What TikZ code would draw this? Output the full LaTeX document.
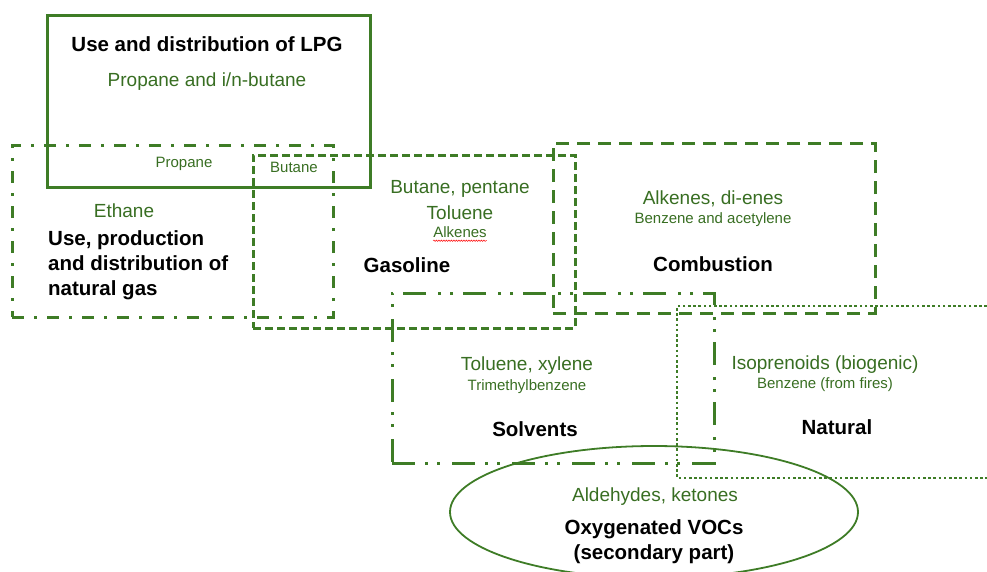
\documentclass[tikz,border=0pt]{standalone}
\usepackage{fontspec}
\setmainfont{Liberation Sans}
\usetikzlibrary{shapes.geometric,decorations.pathmorphing}
\definecolor{vgreen}{RGB}{62,124,38}
\definecolor{tgreen}{RGB}{56,110,34}
\tikzset{
  srcbox/.style={draw=vgreen, line width=3pt, inner sep=0pt, rectangle},
  dashdotline/.style={dash pattern=on 12pt off 10pt on 3pt off 10pt},
  shortdashline/.style={dash pattern=on 8pt off 4pt},
  longdashline/.style={dash pattern=on 13pt off 8pt},
  dashdotdotline/.style={dash pattern=on 23pt off 10pt on 3pt off 9pt on 3pt off 12pt},
  dotline/.style={dash pattern=on 2.6pt off 2.6pt},
  title/.style={font=\fontsize{20.5}{25}\selectfont\bfseries, text=black, inner sep=0pt},
  big/.style={font=\fontsize{19}{23}\selectfont, text=tgreen, inner sep=0pt},
  small/.style={font=\fontsize{15}{18}\selectfont, text=tgreen, inner sep=0pt},
}
\begin{document}
\begin{tikzpicture}[x=1pt,y=-1pt]
\useasboundingbox (0,0) rectangle (987,571);
% boxes
\node[srcbox, minimum width=323pt, minimum height=172pt] (lpg) at (208.5,101) {};
\node[srcbox, dashdotline, minimum width=321pt, minimum height=172pt] (ng) at (172.5,231) {};
\node[srcbox, shortdashline, minimum width=322pt, minimum height=173pt] (gas) at (414,241.5) {};
\node[srcbox, longdashline, minimum width=322pt, minimum height=170pt] (comb) at (714,228) {};
\node[srcbox, dashdotdotline, minimum width=322pt, minimum height=170pt] (solv) at (553,378) {};
\coordinate (natTR) at (987,306);
\coordinate (natTL) at (677,306);
\coordinate (natBL) at (677,478);
\coordinate (natBR) at (987,478);
\draw[vgreen, line width=2.7pt, dotline] (natTR) -- (natTL) -- (natBL) -- (natBR);
\node[draw=vgreen, line width=1.8pt, ellipse, inner sep=0pt, minimum width=408pt, minimum height=132pt] (oxy) at (654,512) {};
% texts LPG
\node[title] (lpgT) at (207,44) {Use and distribution of LPG};
\node[big] (lpgS) at (207,82) {Propane and i/n-butane};
\node[small] (prop) at (184,164) {Propane};
\node[small] (but) at (294,167) {Butane};
% natural gas
\node[big] (eth) at (124,211) {Ethane};
\node[title, anchor=west, align=left] (ngT) at (48,265) {Use, production\\and distribution of\\natural gas};
% gasoline
\node[big] (gasS1) at (460,189) {Butane, pentane};
\node[big] (gasS2) at (460,213) {Toluene};
\node[small] (gasS3) at (460,232) {Alkenes};
\draw[red, line width=0.5pt, decorate, decoration={snake, amplitude=0.7pt, segment length=2.5pt}]
  ([yshift=-3pt]gasS3.south west) -- ([yshift=-3pt]gasS3.south east);
\node[title] (gasT) at (407,265) {Gasoline};
% combustion
\node[big] (combS1) at (713,199) {Alkenes, di-enes};
\node[small] (combS2) at (713,220) {Benzene and acetylene};
\node[title] (combT) at (713,264) {Combustion};
% solvents
\node[big] (solvS1) at (527,366) {Toluene, xylene};
\node[small] (solvS2) at (527,387) {Trimethylbenzene};
\node[title] (solvT) at (535,429) {Solvents};
% natural
\node[big] (natS1) at (825,365) {Isoprenoids (biogenic)};
\node[small] (natS2) at (825,385) {Benzene (from fires)};
\node[title] (natT) at (837,427) {Natural};
% oxygenated
\node[big] (oxyS) at (655,497) {Aldehydes, ketones};
\node[title, align=center] (oxyT) at (654,542) {Oxygenated VOCs\\(secondary part)};
\end{tikzpicture}
\end{document}
